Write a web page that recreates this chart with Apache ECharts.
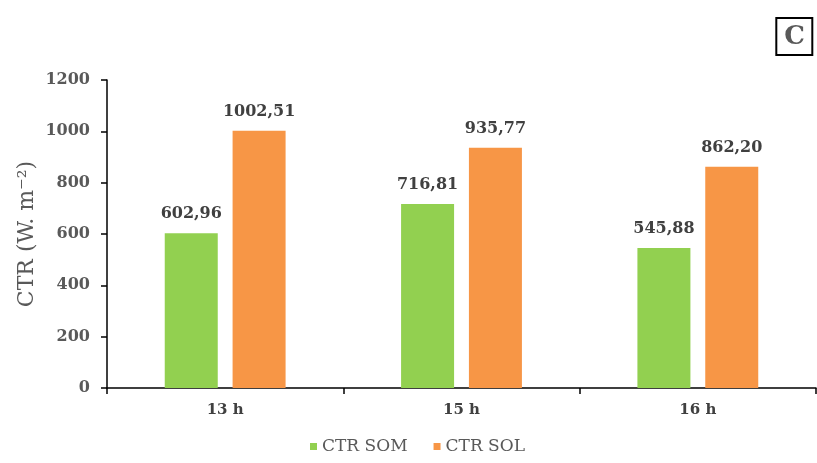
<!DOCTYPE html>
<html>
<head>
<meta charset="utf-8">
<script src="https://cdn.jsdelivr.net/npm/echarts@6/dist/echarts.min.js"></script>
<style>
  html, body { margin: 0; padding: 0; background: #fff; }
  #chart { width: 817px; height: 463px; }
</style>
</head>
<body>
<div id="chart"></div>
<script>
// Canopy temperature response by hour of day
const hours = ['13 h', '15 h', '16 h'];
const ctrSom = [602.96, 716.81, 545.88];
const ctrSol = [1002.51, 935.77, 862.20];
const yTicks = [0, 200, 400, 600, 800, 1000, 1200];
const seriesNames = ['CTR SOM', 'CTR SOL'];

const serif = 'DejaVu Serif';
const fmt = v => v.toFixed(2).replace('.', ',');
const legendText = { fontFamily: serif, fontSize: 17, fontWeight: 'normal', color: '#595959' };

const chart = echarts.init(document.getElementById('chart'));
chart.setOption({
  animation: false,
  textStyle: { fontFamily: serif },
  title: {
    text: 'C',
    right: 4,
    top: 18,
    borderColor: '#000',
    borderWidth: 2,
    padding: [6, 8, 5, 8],
    textStyle: { fontFamily: serif, fontSize: 26, fontWeight: 'bold', color: '#595959' }
  },
  legend: {
    left: 305,
    bottom: 3,
    icon: 'rect',
    itemWidth: 7,
    itemHeight: 7,
    itemGap: 26,
    textStyle: legendText,
    data: seriesNames
  },
  grid: { left: 107, right: 1, top: 80, bottom: 75 },
  xAxis: {
    type: 'category',
    data: hours,
    axisLine: { lineStyle: { color: '#000', width: 1.5 } },
    axisTick: { show: true, length: 6, lineStyle: { color: '#000', width: 1.5 } },
    axisLabel: { fontFamily: serif, fontSize: 15, fontWeight: 'bold', color: '#404040', margin: 15 }
  },
  yAxis: {
    type: 'value',
    min: yTicks[0],
    max: yTicks[yTicks.length - 1],
    interval: yTicks[1] - yTicks[0],
    name: 'CTR (W. m⁻²)',
    nameLocation: 'middle',
    nameGap: 69,
    nameMoveOverlap: false,
    nameTextStyle: { fontFamily: serif, fontSize: 22, color: '#595959' },
    splitLine: { show: false },
    axisLine: { show: true, lineStyle: { color: '#000', width: 1.5 } },
    axisTick: { show: true, length: 6, lineStyle: { color: '#000', width: 1.5 } },
    axisLabel: {
      fontFamily: serif, fontSize: 16, fontWeight: 'bold', color: '#595959', margin: 17,
      formatter: v => String(v)
    }
  },
  series: [
    {
      name: seriesNames[0],
      type: 'bar',
      data: ctrSom,
      barWidth: 53,
      barGap: '28%',
      itemStyle: { color: '#92D050' },
      label: {
        show: true, position: 'top', distance: 11,
        formatter: p => fmt(p.value),
        fontFamily: serif, fontSize: 16, fontWeight: 'bold', color: '#404040'
      }
    },
    {
      name: seriesNames[1],
      type: 'bar',
      data: ctrSol,
      barWidth: 53,
      itemStyle: { color: '#F79646' },
      label: {
        show: true, position: 'top', distance: 11,
        formatter: p => fmt(p.value),
        fontFamily: serif, fontSize: 16, fontWeight: 'bold', color: '#404040'
      }
    }
  ]
});
</script>
</body>
</html>
